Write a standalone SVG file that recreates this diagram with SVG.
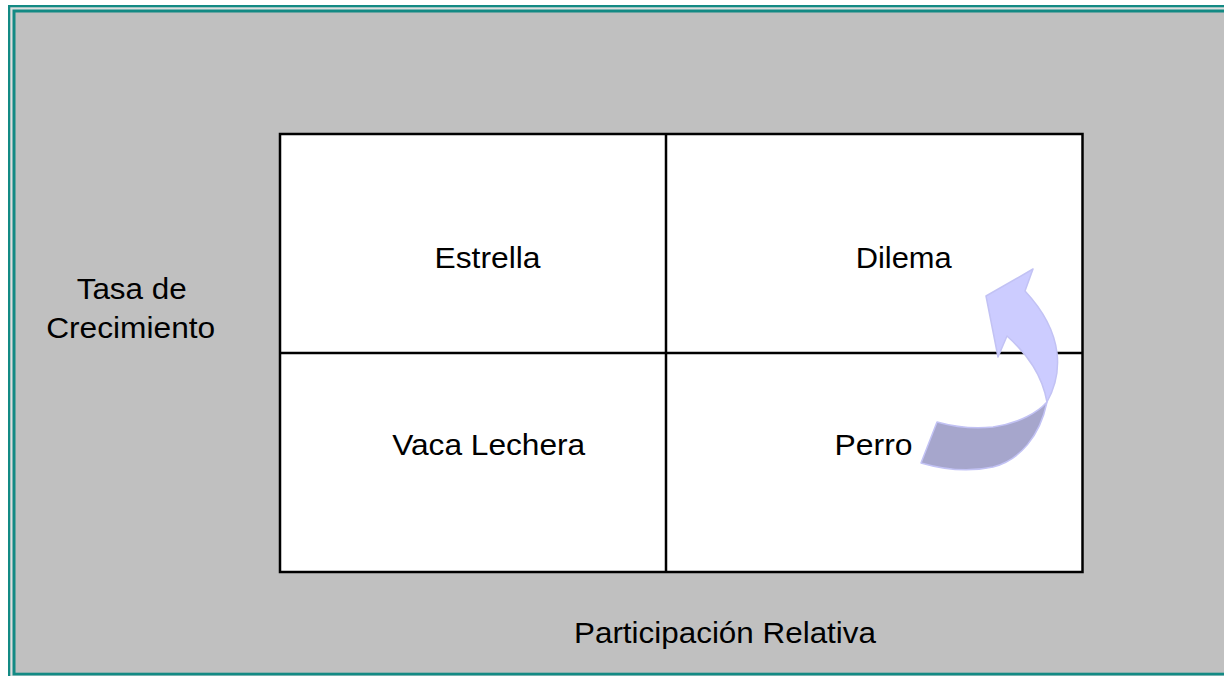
<svg xmlns="http://www.w3.org/2000/svg" width="1224" height="676" viewBox="0 0 1224 676">
  <style>
    .lbl { font-family: "Liberation Sans", Arial, sans-serif; font-size: 30px; fill: #000000; text-anchor: middle; }
    .grid { fill: none; stroke: #000000; stroke-width: 2.5; }
    .arrowLight { fill: #ccccff; stroke: #c2c2f4; stroke-width: 1.5; stroke-linejoin: round; }
    .arrowDark { fill: #a6a6cc; stroke: #c2c2f4; stroke-width: 1.5; stroke-linejoin: round; }
  </style>
  <rect x="0" y="0" width="1224" height="676" fill="#ffffff"/>
  <g id="frame">
    <rect x="8" y="5" width="1230" height="680" fill="#138a84"/>
    <rect x="10.3" y="7.3" width="1230" height="680" fill="#dedede"/>
    <rect x="12.5" y="9.5" width="1230" height="666" fill="#138a84"/>
    <rect x="15.5" y="12.5" width="1230" height="660.2" fill="#c0c0c0"/>
  </g>
  <g id="matrix">
    <rect x="280" y="134" width="802.5" height="438" fill="#ffffff"/>
    <rect class="grid" x="280" y="134" width="802.5" height="438"/>
    <line class="grid" x1="666" y1="134" x2="666" y2="572"/>
    <line class="grid" x1="280" y1="353" x2="1082.5" y2="353"/>
  </g>
  <g id="estrella"><text class="lbl" x="487.5" y="268" textLength="106" lengthAdjust="spacingAndGlyphs">Estrella</text></g>
  <g id="dilema"><text class="lbl" x="903.7" y="268" textLength="96" lengthAdjust="spacingAndGlyphs">Dilema</text></g>
  <g id="vaca"><text class="lbl" x="488.7" y="455" textLength="193" lengthAdjust="spacingAndGlyphs">Vaca Lechera</text></g>
  <g id="perro"><text class="lbl" x="873.5" y="455" textLength="78" lengthAdjust="spacingAndGlyphs">Perro</text></g>
  <g id="tasa">
    <text class="lbl" x="131.7" y="299" textLength="110" lengthAdjust="spacingAndGlyphs">Tasa de</text>
    <text class="lbl" x="130.7" y="337.7" textLength="169" lengthAdjust="spacingAndGlyphs">Crecimiento</text>
  </g>
  <g id="participacion"><text class="lbl" x="725" y="643" textLength="302" lengthAdjust="spacingAndGlyphs">Participación Relativa</text></g>
  <g id="connectors">
    <path class="arrowDark" d="M1047,402 C1038,412 1020,423 993,427 C975,429 955,427 937,422 L921,463 C945,470 970,472 993,467 C1020,460 1040,436 1047,402 Z"/>
    <path class="arrowLight" d="M1047,402 C1062,375 1066,335 1025,291 L1033,269 L986,296 L998,357 L1007,336 C1028,355 1042,375 1047,402 Z"/>
  </g>
</svg>
